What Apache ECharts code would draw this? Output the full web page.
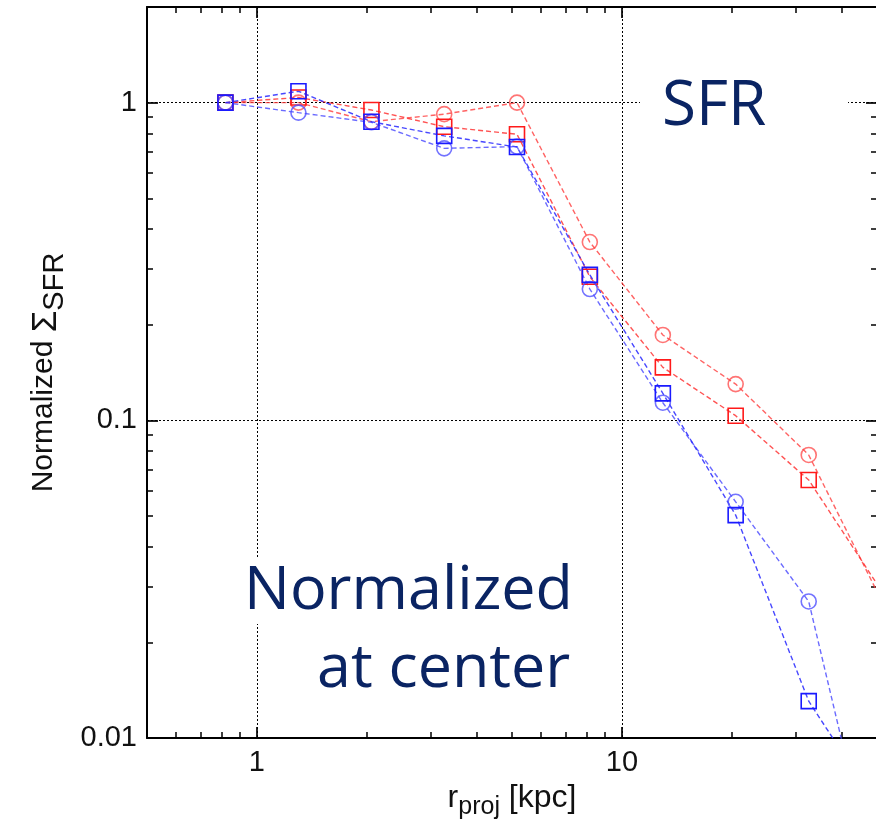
<!DOCTYPE html>
<html><head><meta charset="utf-8">
<script src="https://cdn.jsdelivr.net/npm/echarts@6/dist/echarts.min.js"></script>
<style>html,body{margin:0;padding:0;background:#fff}#c{width:876px;height:822px}</style>
</head><body><div id="c"></div>
<script>
// ---- data ----
const radii = [0.82, 1.3, 2.06, 3.26, 5.16, 8.17, 12.95, 20.5, 32.5, 51.5];
const redCircle  = [1.0, 1.0,   0.871, 0.92,  1.0,   0.364, 0.1856, 0.130,  0.0778,  0.027];
const redSquare  = [1.0, 1.038, 0.948, 0.840, 0.795, 0.283, 0.1468, 0.1034, 0.0649,  0.029];
const blueCircle = [1.0, 0.930, 0.867, 0.718, 0.727, 0.259, 0.1136, 0.0554, 0.0269,  0.0029];
const blueSquare = [1.0, 1.086, 0.871, 0.786, 0.725, 0.287, 0.1216, 0.0503, 0.01306, 0.0058];
const xTickValues = [1, 10];
const xTickLabels = ['1', '10'];
const xMinorTicks = [0.6, 0.7, 0.8, 0.9, 2, 3, 4, 5, 6, 7, 8, 9, 20, 30, 40];
const yTickValues = [0.01, 0.1, 1];
const yTickLabels = ['0.01', '0.1', '1'];
const yMinorTicks = [0.02, 0.03, 0.04, 0.05, 0.06, 0.07, 0.08, 0.09, 0.2, 0.3, 0.4, 0.5, 0.6, 0.7, 0.8, 0.9];
const xRange = [0.5, 50];
const yRange = [0.01, 2];

function lookup(vals, labels) {
  return function (v) {
    for (let i = 0; i < vals.length; i++) {
      if (Math.abs(Math.log10(v / vals[i])) < 1e-6) return labels[i];
    }
    return '';
  };
}

const chart = echarts.init(document.getElementById('c'), null, {renderer: 'canvas'});
const black = '#000';
const FF = 'Liberation Sans, Arial, sans-serif';
const tickFont = {fontSize: 29, fontFamily: FF, color: '#111'};

function axisSet(pos1, pos2, range, majors, minors, labelFn, nameCfg) {
  const base = {type: 'log', logBase: 10, min: range[0], max: range[1], gridIndex: 0};
  const line = {show: true, lineStyle: {color: black, width: 2}};
  const majorTick = {show: true, inside: true, length: 11, customValues: majors, lineStyle: {color: black, width: 1.7}};
  const minorTick = {show: true, inside: true, length: 6, customValues: minors, lineStyle: {color: black, width: 1.5}};
  const noLabel = {show: false};
  const a0 = Object.assign({}, base, {
    position: pos1, axisLine: line, axisTick: majorTick,
    axisLabel: Object.assign({show: true, customValues: majors, formatter: labelFn, margin: 10}, tickFont),
    splitLine: {show: true, lineStyle: {color: black, width: 1, type: [2, 2]}}
  }, nameCfg);
  const a1 = Object.assign({}, base, {position: pos2, axisLine: line, axisTick: majorTick, axisLabel: noLabel, splitLine: {show: false}});
  // requesting an already used side flips the axis to the other side
  const a2 = Object.assign({}, base, {position: pos2, axisLine: {show: false}, axisTick: minorTick, axisLabel: noLabel, splitLine: {show: false}});
  const a3 = Object.assign({}, base, {position: pos1, axisLine: {show: false}, axisTick: minorTick, axisLabel: noLabel, splitLine: {show: false}});
  return [a0, a1, a2, a3];
}

const xAxes = axisSet('bottom', 'top', xRange, xTickValues, xMinorTicks, lookup(xTickValues, xTickLabels), {
  name: '{m|r}{s|proj}{m| [kpc]}',
  nameLocation: 'middle', nameGap: 40,
  nameTextStyle: {
    rich: {
      m: {fontSize: 32, fontFamily: FF, color: '#111', verticalAlign: 'top', lineHeight: 34},
      s: {fontSize: 25, fontFamily: FF, color: '#111', verticalAlign: 'top', padding: [13, 0, 0, 0], lineHeight: 27}
    }
  }
});
const yAxes = axisSet('left', 'right', yRange, yTickValues, yMinorTicks, lookup(yTickValues, yTickLabels), {
  name: '{m|Normalized }{g|Σ}{s|SFR}',
  nameLocation: 'middle', nameGap: 80,
  nameTextStyle: {
    rich: {
      m: {fontSize: 30, fontFamily: FF, color: '#111', verticalAlign: 'top', lineHeight: 34},
      g: {fontSize: 35, fontFamily: FF, color: '#111', verticalAlign: 'top', lineHeight: 34},
      s: {fontSize: 29, fontFamily: FF, color: '#111', verticalAlign: 'top', padding: [12, 0, 0, 0], lineHeight: 29}
    }
  }
});

function mk(name, vals, symbol, lineColor, markColor) {
  return {
    type: 'line', name: name,
    data: radii.map((r, i) => [r, vals[i]]),
    xAxisIndex: 0, yAxisIndex: 0,
    symbol: symbol, symbolSize: 15, showAllSymbol: true,
    lineStyle: {color: lineColor, width: 1.4, type: [5, 3]},
    itemStyle: {color: 'rgba(0,0,0,0)', borderColor: markColor, borderWidth: 1.6},
    emphasis: {disabled: true},
    clip: true, z: 3
  };
}

const navy = '#0a2463';
const annFont = '"Open Sans", "Noto Sans", sans-serif';

chart.setOption({
  animation: false,
  backgroundColor: '#fff',
  grid: {left: 147, top: 7, width: 730, height: 731, containLabel: false, outerBoundsMode: 'none'},
  xAxis: xAxes,
  yAxis: yAxes,
  series: [
    mk('redCircle', redCircle, 'circle', 'rgba(255,60,60,0.8)', 'rgba(255,70,70,0.75)'),
    mk('redSquare', redSquare, 'rect', 'rgba(255,40,40,0.8)', '#ff1a1a'),
    mk('blueCircle', blueCircle, 'circle', 'rgba(70,70,255,0.8)', 'rgba(80,80,255,0.8)'),
    mk('blueSquare', blueSquare, 'rect', 'rgba(40,40,255,0.85)', '#1a1aff')
  ],
  graphic: [
    {type: 'rect', z: 1, shape: {x: 640, y: 70, width: 208, height: 70}, style: {fill: '#fff'}},
    {type: 'rect', z: 1, shape: {x: 238, y: 558, width: 345, height: 66}, style: {fill: '#fff'}},
    {type: 'text', z: 4, x: 662, y: 107, style: {text: 'SFR', font: '62px ' + annFont, fill: navy, align: 'left', verticalAlign: 'middle'}},
    {type: 'text', z: 4, x: 244, y: 592, style: {text: 'Normalized', font: '61px ' + annFont, fill: navy, align: 'left', verticalAlign: 'middle'}},
    {type: 'text', z: 4, x: 317, y: 670, style: {text: 'at center', font: '61px ' + annFont, fill: navy, align: 'left', verticalAlign: 'middle'}}
  ]
});
</script></body></html>
